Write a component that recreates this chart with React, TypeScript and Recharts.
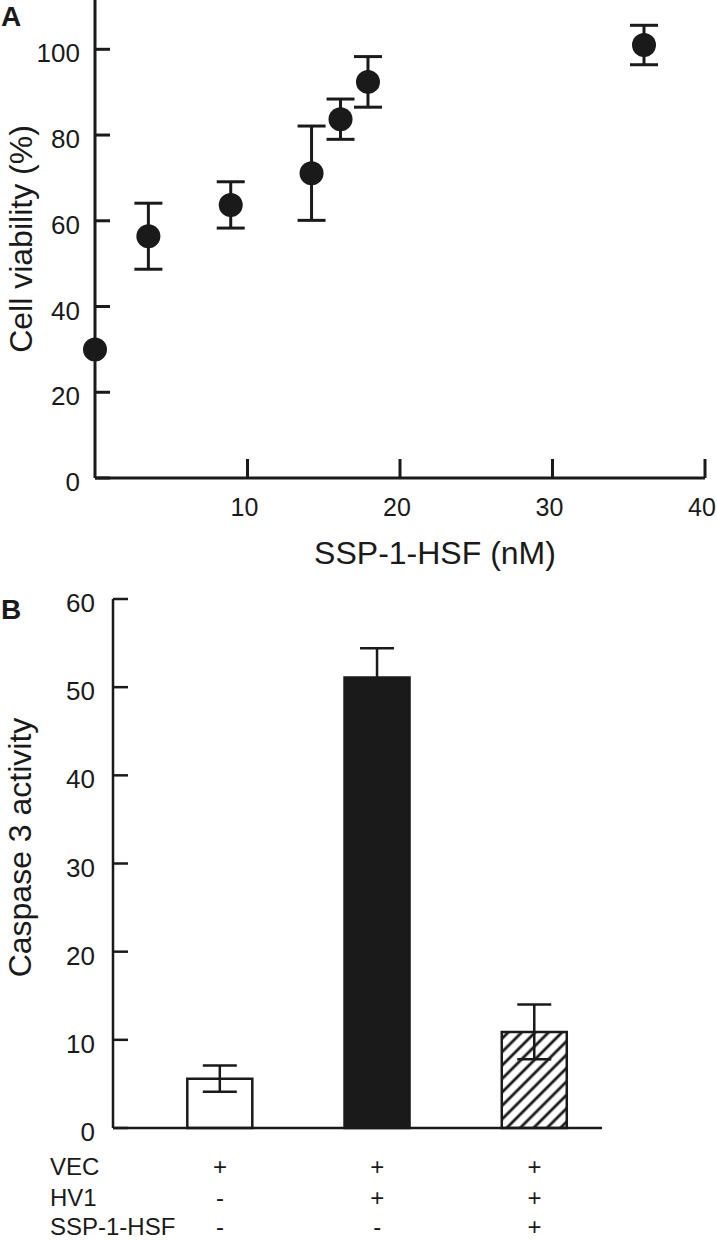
import React from 'react';
import {
  ScatterChart, Scatter, BarChart, Bar, Cell, XAxis, YAxis, ErrorBar,
} from 'recharts';

// Panel A: cell viability vs SSP-1-HSF dose
const concentrations = [0, 3.5, 8.9, 14.2, 16.1, 17.9, 36];
const viability = [30, 56.4, 63.7, 71.1, 83.7, 92.4, 101];
const viabilityErr = [0, 7.7, 5.4, 11.0, 4.7, 5.9, 4.6];
const doseTicks = [10, 20, 30, 40];
const viabilityTicks = [0, 20, 40, 60, 80, 100];

// Panel B: caspase 3 activity per treatment
const groups = [0, 1, 2];
const caspase = [5.6, 51.1, 10.9];
const caspaseErr = [1.5, 3.3, 3.1];
const caspaseTicks = [0, 10, 20, 30, 40, 50, 60];
const tableRows = ['VEC', 'HV1', 'SSP-1-HSF'];
const tableMarks = [
  ['+', '-', '-'],
  ['+', '+', '-'],
  ['+', '+', '+'],
];
const barFills = ['#ffffff', '#1a1a1a', 'url(#hatch)'];

const viabilityData = concentrations.map((c, i) => ({ x: c, y: viability[i], err: viabilityErr[i] }));
const caspaseData = groups.map((g, i) => ({ idx: g, value: caspase[i], err: caspaseErr[i] }));

const INK = '#1a1a1a';
const FONT = '"Liberation Sans", Arial, Helvetica, sans-serif';

const YTickA = (props: any) => {
  const { x, y, payload } = props;
  return (
    <g>
      <line x1={x} x2={x + 15} y1={y} y2={y} stroke={INK} strokeWidth={3} />
      <text x={x - 15} y={y + 4} textAnchor="end" dominantBaseline="central" fontSize={26} fontFamily={FONT} fill={INK}>
        {payload.value}
      </text>
    </g>
  );
};

const XTickA = (props: any) => {
  const { x, y, payload } = props;
  return (
    <g>
      <line x1={x} x2={x} y1={y} y2={y - 19} stroke={INK} strokeWidth={3} />
      <text x={x - 3} y={y + 29} textAnchor="middle" dominantBaseline="central" fontSize={25} fontFamily={FONT} fill={INK}>
        {payload.value}
      </text>
    </g>
  );
};

const YTickB = (props: any) => {
  const { x, y, payload } = props;
  return (
    <g>
      <line x1={x} x2={x + 15} y1={y} y2={y} stroke={INK} strokeWidth={2.5} />
      <text x={x - 18} y={y + 4} textAnchor="end" dominantBaseline="central" fontSize={26} fontFamily={FONT} fill={INK}>
        {payload.value}
      </text>
    </g>
  );
};

const rowOffsets = [38, 69, 98];

const TableTick = (props: any) => {
  const { x, y, index } = props;
  const marks = tableMarks[index] || [];
  return (
    <g fontFamily={FONT} fontSize={24} fill={INK}>
      {index === 0 &&
        tableRows.map((r, i) => (
          <text key={r} x={50} y={y + rowOffsets[i]} dominantBaseline="central" fill={INK}>
            {r}
          </text>
        ))}
      {marks.map((m, i) => (
        <text key={i} x={x} y={y + rowOffsets[i]} textAnchor="middle" dominantBaseline="central" fill={INK}>
          {m}
        </text>
      ))}
    </g>
  );
};

const Dot = (props: any) => <circle cx={props.cx} cy={props.cy} r={12} fill={INK} />;

const PanelLetter = ({ letter, top }: { letter: string; top: number }) => (
  <div style={{ position: 'absolute', left: 1, top, fontFamily: FONT, fontWeight: 700, fontSize: 28, color: INK, lineHeight: 1 }}>
    {letter}
  </div>
);

export default function App() {
  return (
    <div style={{ position: 'absolute', left: 0, top: 0, width: 717, height: 1240, background: '#fff' }}>
      <div style={{ position: 'absolute', left: 0, top: 0 }}>
        <ScatterChart width={717} height={580} margin={{ top: 0, right: 12, bottom: 0, left: 0 }}>
          <XAxis
            type="number"
            dataKey="x"
            domain={[0, 40]}
            ticks={doseTicks}
            height={102}
            tickSize={0}
            tickMargin={0}
            tickLine={false}
            tick={<XTickA />}
            axisLine={{ stroke: INK, strokeWidth: 3 }}
            label={(p: any) => (
              <text
                x={p.viewBox.x + p.viewBox.width / 2 + 35}
                y={p.viewBox.y + 75}
                textAnchor="middle"
                dominantBaseline="central"
                fontSize={32}
                fontFamily={FONT}
                fill={INK}
              >
                SSP-1-HSF (nM)
              </text>
            )}
          />
          <YAxis
            type="number"
            dataKey="y"
            domain={[0, 111.5]}
            ticks={viabilityTicks}
            width={95}
            tickSize={0}
            tickMargin={0}
            tickLine={false}
            tick={<YTickA />}
            axisLine={{ stroke: INK, strokeWidth: 3 }}
            label={(p: any) => (
              <text
                x={21}
                y={p.viewBox.y + p.viewBox.height / 2}
                transform={`rotate(-90, 21, ${p.viewBox.y + p.viewBox.height / 2})`}
                textAnchor="middle"
                dominantBaseline="central"
                fontSize={32}
                fontFamily={FONT}
                fill={INK}
              >
                Cell viability (%)
              </text>
            )}
          />
          <Scatter data={viabilityData} shape={<Dot />} isAnimationActive={false}>
            <ErrorBar dataKey="err" direction="y" width={14} strokeWidth={3} stroke={INK} />
          </Scatter>
        </ScatterChart>
      </div>
      <PanelLetter letter="A" top={3} />

      <div style={{ position: 'absolute', left: 0, top: 580 }}>
        <BarChart width={717} height={660} data={caspaseData} margin={{ top: 19, right: 115, bottom: 0, left: 0 }}>
          <defs>
            <pattern id="hatch" patternUnits="userSpaceOnUse" width={9.5} height={9.5} patternTransform="rotate(45)">
              <rect width={9.5} height={9.5} fill="#fff" />
              <line x1={4.75} y1={0} x2={4.75} y2={9.5} stroke={INK} strokeWidth={2.8} />
            </pattern>
          </defs>
          <XAxis
            type="number"
            dataKey="idx"
            domain={[-0.68, 2.43]}
            ticks={groups}
            height={112}
            tickSize={0}
            tickMargin={0}
            tickLine={false}
            tick={<TableTick />}
            axisLine={{ stroke: INK, strokeWidth: 2.5 }}
          />
          <YAxis
            type="number"
            domain={[0, 60]}
            ticks={caspaseTicks}
            width={113}
            tickSize={0}
            tickMargin={0}
            tickLine={false}
            tick={<YTickB />}
            axisLine={{ stroke: INK, strokeWidth: 2.5 }}
            label={(p: any) => (
              <text
                x={20}
                y={p.viewBox.y + p.viewBox.height / 2 - 16}
                transform={`rotate(-90, 20, ${p.viewBox.y + p.viewBox.height / 2 - 16})`}
                textAnchor="middle"
                dominantBaseline="central"
                fontSize={32}
                fontFamily={FONT}
                fill={INK}
              >
                Caspase 3 activity
              </text>
            )}
          />
          <Bar dataKey="value" barSize={65} stroke={INK} strokeWidth={2.5} isAnimationActive={false}>
            {caspaseData.map((d, i) => (
              <Cell key={d.idx} fill={barFills[i]} />
            ))}
            <ErrorBar dataKey="err" direction="y" width={17} strokeWidth={2.5} stroke={INK} />
          </Bar>
        </BarChart>
      </div>
      <PanelLetter letter="B" top={596} />
    </div>
  );
}
